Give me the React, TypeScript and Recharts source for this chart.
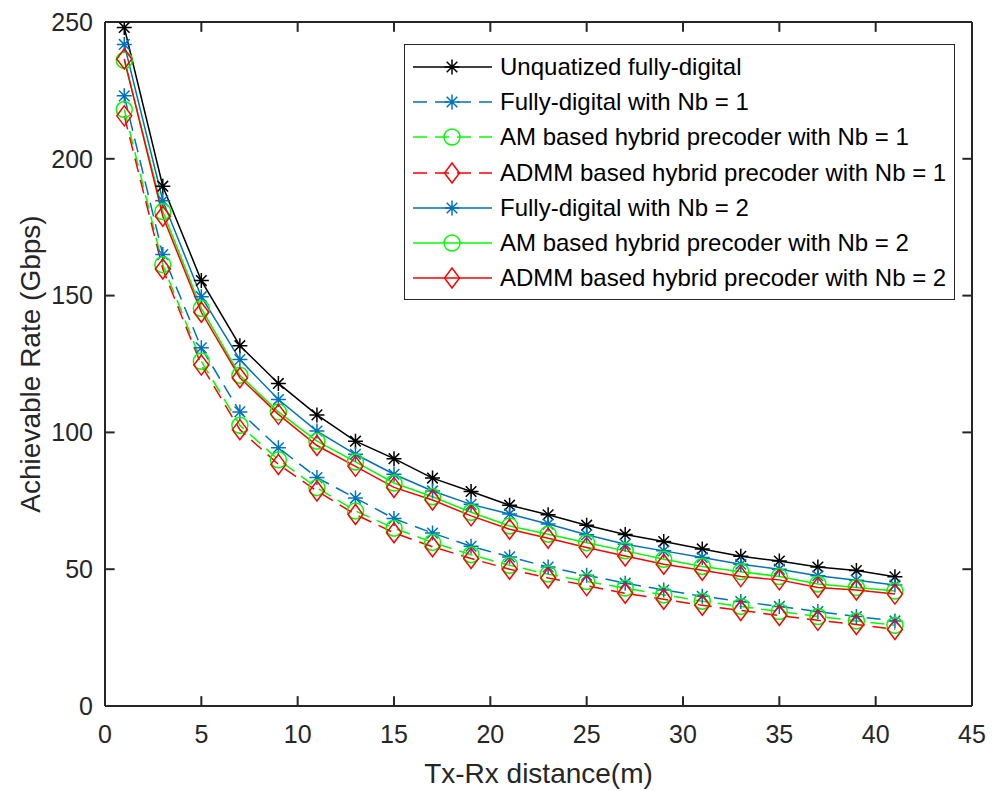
import React from "react"
import { LineChart, Line, XAxis, YAxis, Legend, ReferenceLine } from "recharts"

// Tx-Rx distance in metres
const distances = [1, 3, 5, 7, 9, 11, 13, 15, 17, 19, 21, 23, 25, 27, 29, 31, 33, 35, 37, 39, 41]

// achievable rate in Gbps
const unquantized = [248, 190, 155.5, 131.7, 117.9, 106.4, 96.8, 90.4, 83.3, 78.4, 73.4, 69.9, 66.1, 62.7, 60.1, 57.4, 54.7, 53, 50.8, 49.5, 47.2]
const fullyDigitalNb1 = [223, 165, 130.9, 107.5, 94.4, 83.5, 76, 68.5, 63.2, 58.4, 54.5, 50.8, 47.8, 44.9, 42.4, 40.1, 38.2, 36.4, 34.5, 32.7, 31.1]
const amNb1 = [218, 161.3, 126, 102.6, 90, 79.8, 71.3, 65, 59.8, 55.3, 51.4, 48.2, 45.5, 43.1, 40.6, 38.3, 36.4, 34.5, 32.7, 31.1, 29.5]
const admmNb1 = [215.7, 159.7, 124.6, 101, 88.3, 78.6, 70, 63.3, 58.2, 53.9, 50, 46.8, 44, 41.2, 39, 36.8, 34.9, 33.1, 31.3, 29.8, 28]
const fullyDigitalNb2 = [241.8, 184.7, 149.6, 126.6, 112, 100.5, 92, 84.7, 78.6, 73.7, 70.2, 66.5, 62.6, 59.1, 56.7, 54.3, 51.8, 50, 47.6, 46, 44.2]
const amNb2 = [236, 180.7, 145.3, 120.9, 107.5, 96.8, 89.2, 81.5, 76.5, 70.8, 65.8, 62.8, 59.7, 56.7, 53.6, 51, 49.1, 47.3, 44.6, 43.3, 42]
const admmNb2 = [236.5, 179, 143.9, 120, 106.6, 95.2, 87.6, 79.9, 75.3, 69.5, 64.6, 61.3, 57.9, 54.8, 51.8, 49.6, 47.3, 46.1, 43.3, 42.4, 40.9]

const seriesNames = [
  "Unquatized fully-digital",
  "Fully-digital with Nb = 1",
  "AM based hybrid precoder with Nb = 1",
  "ADMM based hybrid precoder with Nb = 1",
  "Fully-digital with Nb = 2",
  "AM based hybrid precoder with Nb = 2",
  "ADMM based hybrid precoder with Nb = 2",
]

const xTicks = [0, 5, 10, 15, 20, 25, 30, 35, 40, 45]
const yTicks = [0, 50, 100, 150, 200, 250]

const FONT = "'Liberation Sans', Arial, sans-serif"
const AXIS = "#262626"
const BLUE = "#0072BD"
const GREEN = "#00FF00"
const RED = "#FF0000"
const DASH = "14 8"

// inward tick length (about 10px) in axis units
const X_MAX = 45
const Y_MAX = 250
const TICK_DX = 0.5
const TICK_DY = 3.6

type MarkerType = "star" | "circle" | "diamond"

const series: { key: string; name: string; values: number[]; color: string; dashed: boolean; marker: MarkerType }[] = [
  { key: "unq", name: seriesNames[0], values: unquantized, color: "#000000", dashed: false, marker: "star" },
  { key: "fd1", name: seriesNames[1], values: fullyDigitalNb1, color: BLUE, dashed: true, marker: "star" },
  { key: "am1", name: seriesNames[2], values: amNb1, color: GREEN, dashed: true, marker: "circle" },
  { key: "admm1", name: seriesNames[3], values: admmNb1, color: RED, dashed: true, marker: "diamond" },
  { key: "fd2", name: seriesNames[4], values: fullyDigitalNb2, color: BLUE, dashed: false, marker: "star" },
  { key: "am2", name: seriesNames[5], values: amNb2, color: GREEN, dashed: false, marker: "circle" },
  { key: "admm2", name: seriesNames[6], values: admmNb2, color: RED, dashed: false, marker: "diamond" },
]

const data = distances.map((d, i) => {
  const row: Record<string, number> = { d }
  series.forEach((s) => {
    row[s.key] = s.values[i]
  })
  return row
})

function MarkerShape({ type, cx, cy, color }: { type: MarkerType; cx: number; cy: number; color: string }) {
  if (type === "circle") {
    return <circle cx={cx} cy={cy} r={8} fill="none" stroke={color} strokeWidth={1.5} />
  }
  if (type === "diamond") {
    const w = 7.5
    const h = 10
    return (
      <path
        d={`M${cx},${cy - h} L${cx + w},${cy} L${cx},${cy + h} L${cx - w},${cy} Z`}
        fill="none"
        stroke={color}
        strokeWidth={1.5}
      />
    )
  }
  const a = 7.5
  const b = a * 0.707
  return (
    <path
      d={`M${cx - a},${cy} H${cx + a} M${cx},${cy - a} V${cy + a} M${cx - b},${cy - b} L${cx + b},${cy + b} M${cx - b},${cy + b} L${cx + b},${cy - b}`}
      fill="none"
      stroke={color}
      strokeWidth={1.5}
    />
  )
}

function LegendBox() {
  return (
    <div
      style={{
        boxSizing: "border-box",
        width: 551,
        height: 256,
        border: `1px solid ${AXIS}`,
        background: "#fff",
        padding: "4px 0 3px 0",
        fontFamily: FONT,
      }}
    >
      {series.map((s) => (
        <div key={s.key} style={{ display: "flex", alignItems: "center", height: 35.3 }}>
          <svg width={95} height={30} style={{ flex: "none" }}>
            <line
              x1={8}
              x2={87}
              y1={15}
              y2={15}
              stroke={s.color}
              strokeWidth={1.5}
              strokeDasharray={s.dashed ? DASH : undefined}
            />
            <MarkerShape type={s.marker} cx={47} cy={15} color={s.color} />
          </svg>
          <span style={{ fontSize: 24, lineHeight: "30px", color: "#000", whiteSpace: "nowrap" }}>{s.name}</span>
        </div>
      ))}
    </div>
  )
}

const tickStyle = { fontSize: 25, fill: AXIS, fontFamily: FONT }
const edge = { stroke: AXIS, strokeWidth: 2 }

// short inward tick segments on all four sides of the box
const innerTicks = [
  ...xTicks.slice(1, -1).flatMap((x) => [
    [{ x, y: 0 }, { x, y: TICK_DY }],
    [{ x, y: Y_MAX }, { x, y: Y_MAX - TICK_DY }],
  ]),
  ...yTicks.slice(1, -1).flatMap((y) => [
    [{ x: 0, y }, { x: TICK_DX, y }],
    [{ x: X_MAX, y }, { x: X_MAX - TICK_DX, y }],
  ]),
]

export default function App() {
  return (
    <div style={{ position: "absolute", left: 0, top: 0, width: 992, height: 791, background: "#fff", fontFamily: FONT }}>
      <LineChart width={992} height={791} data={data} margin={{ top: 22, right: 20, bottom: 0, left: 0 }}>
        <XAxis
          dataKey="d"
          type="number"
          domain={[0, X_MAX]}
          ticks={xTicks}
          allowDataOverflow
          height={85}
          tickLine={false}
          tickSize={0}
          tickMargin={19}
          tick={tickStyle}
          axisLine={edge}
          label={{
            content: (p: any) => {
              const vb = p.viewBox || {}
              return (
                <text x={vb.x + vb.width / 2} y={vb.y + 77} textAnchor="middle" fontSize={28} fill={AXIS} fontFamily={FONT}>
                  Tx-Rx distance(m)
                </text>
              )
            },
          }}
        />
        <YAxis
          type="number"
          domain={[0, Y_MAX]}
          ticks={yTicks}
          allowDataOverflow
          width={105}
          tickLine={false}
          tickSize={0}
          tickMargin={12}
          tick={tickStyle}
          axisLine={edge}
          label={{
            content: (p: any) => {
              const vb = p.viewBox || {}
              const cy = vb.y + vb.height / 2
              return (
                <text x={40} y={cy} transform={`rotate(-90, 40, ${cy})`} textAnchor="middle" fontSize={28} fill={AXIS} fontFamily={FONT}>
                  Achievable Rate (Gbps)
                </text>
              )
            },
          }}
        />
        {/* top and right edges of the box */}
        <ReferenceLine y={Y_MAX} stroke={AXIS} strokeWidth={2} ifOverflow="visible" />
        <ReferenceLine x={X_MAX} stroke={AXIS} strokeWidth={2} ifOverflow="visible" />
        {innerTicks.map((seg, i) => (
          <ReferenceLine key={`tick-${i}`} segment={seg} stroke={AXIS} strokeWidth={2} ifOverflow="visible" />
        ))}

        {series.map((s) => (
          <Line
            key={s.key}
            dataKey={s.key}
            name={s.name}
            type="linear"
            stroke={s.color}
            strokeWidth={1.5}
            strokeDasharray={s.dashed ? DASH : undefined}
            isAnimationActive={false}
            activeDot={false}
            dot={(p: any) => <MarkerShape key={`${s.key}-${p.index}`} type={s.marker} cx={p.cx} cy={p.cy} color={s.color} />}
          />
        ))}

        <Legend
          layout="horizontal"
          align="center"
          verticalAlign="middle"
          width={551}
          wrapperStyle={{ top: 44, left: 404, width: 551 }}
          content={() => <LegendBox />}
        />
      </LineChart>
    </div>
  )
}
